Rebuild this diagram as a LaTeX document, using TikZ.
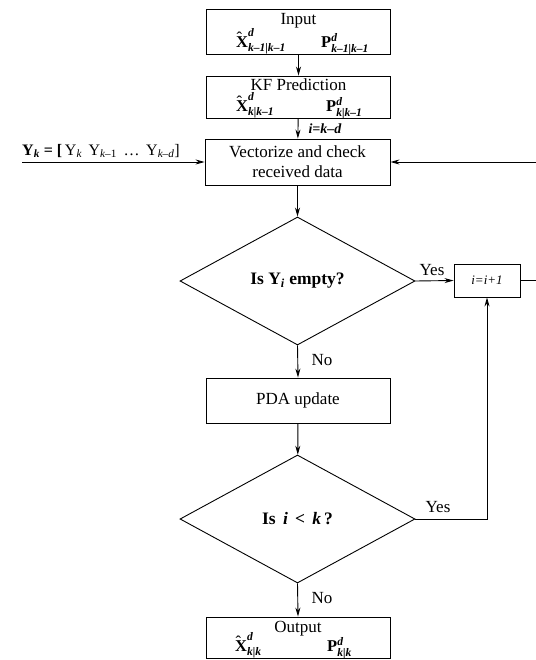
\RequirePackage{fix-cm}
\documentclass[tikz,border=0pt]{standalone}
\usepackage{amsmath}
\usepackage{fontspec}
\setmainfont{Liberation Serif}
\usetikzlibrary{shapes.geometric,arrows.meta}
\newcommand\bi[1]{\text{\bfseries\itshape #1}}
\newcommand\Xhat{\text{\bfseries\makebox[0pt][l]{\hspace{0.5pt}\raisebox{4pt}{\mdseries\char"02C6}}X}}
\newcommand\Pb{\text{\bfseries P}}
\begin{document}
\begin{tikzpicture}[x=1pt,y=-1pt,
  box/.style={draw,line width=0.9pt,minimum width=184pt,inner sep=0pt,align=center,font=\fontsize{17}{20}\selectfont},
  txt/.style={inner sep=0pt,font=\fontsize{17}{20}\selectfont},
  mth/.style={inner sep=0pt,anchor=base west,font=\fontsize{16.5}{19}\selectfont},
  dec/.style={draw,diamond,aspect=1.84,inner sep=0pt,minimum width=235pt,minimum height=128pt,line width=0.9pt,font=\bfseries\fontsize{17.5}{20}\selectfont},
  arr/.style={line width=0.9pt,-{Stealth[length=9pt,width=5pt]}},
  ln/.style={line width=0.9pt},
  lab/.style={font=\fontsize{17}{20}\selectfont,inner sep=0pt}]
\useasboundingbox (0,0) rectangle (535,660);

% boxes
\node[box,minimum height=45pt] (in) at (298.5,31.5) {};
\node[box,minimum height=42pt] (kf) at (298.5,97) {};
\node[box,minimum width=185pt,minimum height=46pt] (vec) at (297.5,162)
  {Vectorize and check\\ received data};
\node[dec] (d1) at (297.5,281) {Is Y$_{\bi{i}}$ empty?};
\node[draw,line width=0.9pt,minimum width=66pt,minimum height=33pt,inner sep=0pt,font=\itshape\fontsize{13}{15}\selectfont] (inc) at (487,280.5) {i=i+1};
\node[box,minimum height=45pt] (pda) at (298,400.5) {PDA update};
\node[dec] (d2) at (297.5,519) {Is \,\textit{i}\, <\, \textit{k}\,?};
\node[box,minimum height=41pt] (out) at (298,637.5) {};

% box contents
\node[txt] (inT) at (298.5,21) {Input};
\node[mth] (inX) at (236,47.5) {$\Xhat^{\bi{d}}_{\bi{k–1|k–1}}$};
\node[mth] (inP) at (321,47.5) {$\Pb^{\bi{d}}_{\bi{k–1|k–1}}$};
\node[txt] (kfT) at (298.5,85) {KF Prediction};
\node[mth] (kfX) at (236,111.5) {$\Xhat^{\bi{d}}_{\bi{k|k–1}}$};
\node[mth] (kfP) at (326,111.5) {$\Pb^{\bi{d}}_{\bi{k|k–1}}$};
\node[txt] (outT) at (298,629) {Output};
\node[mth] (outX) at (235,651.5) {$\Xhat^{\bi{d}}_{\bi{k|k}}$};
\node[mth] (outP) at (327,651.5) {$\Pb^{\bi{d}}_{\bi{k|k}}$};

\coordinate (ys) at (22,162);
\coordinate (fb) at (545,162);

\draw[arr] (in) -- (kf);
\draw[arr] (kf) -- (vec);
\node[font=\bfseries\itshape\fontsize{14}{16}\selectfont,inner sep=0pt] (kd) at (325,129) {i=k–d};
\draw[arr] (ys) -- (vec.west);
\node[lab,anchor=south west,font=\fontsize{16}{18}\selectfont] (ylab) at (22,158)
  {\bfseries Y$_{\bi{k}}$ = [\,\mdseries Y$_{\textit{k}}$\, Y$_{\textit{k}\text{–1}}$\, \dots\, Y$_{\textit{k–d}}$]};
\draw[arr] (vec) -- (d1);
\draw[arr] (d1.east) -- (inc.west);
\node[lab] (yes1) at (432,270) {Yes};
\draw[ln] (inc.east) -| (fb);
\draw[arr] (fb) -- (vec.east);
\draw[arr] (d1.south) -- (pda.north);
\node[lab] (no1) at (322,360) {No};
\draw[arr] (pda) -- (d2);
\draw[arr] (d2.east) -| (inc.south);
\node[lab] (yes2) at (438,507) {Yes};
\draw[arr] (d2.south) -- (out.north);
\node[lab] (no2) at (322,598) {No};
\end{tikzpicture}
\end{document}
